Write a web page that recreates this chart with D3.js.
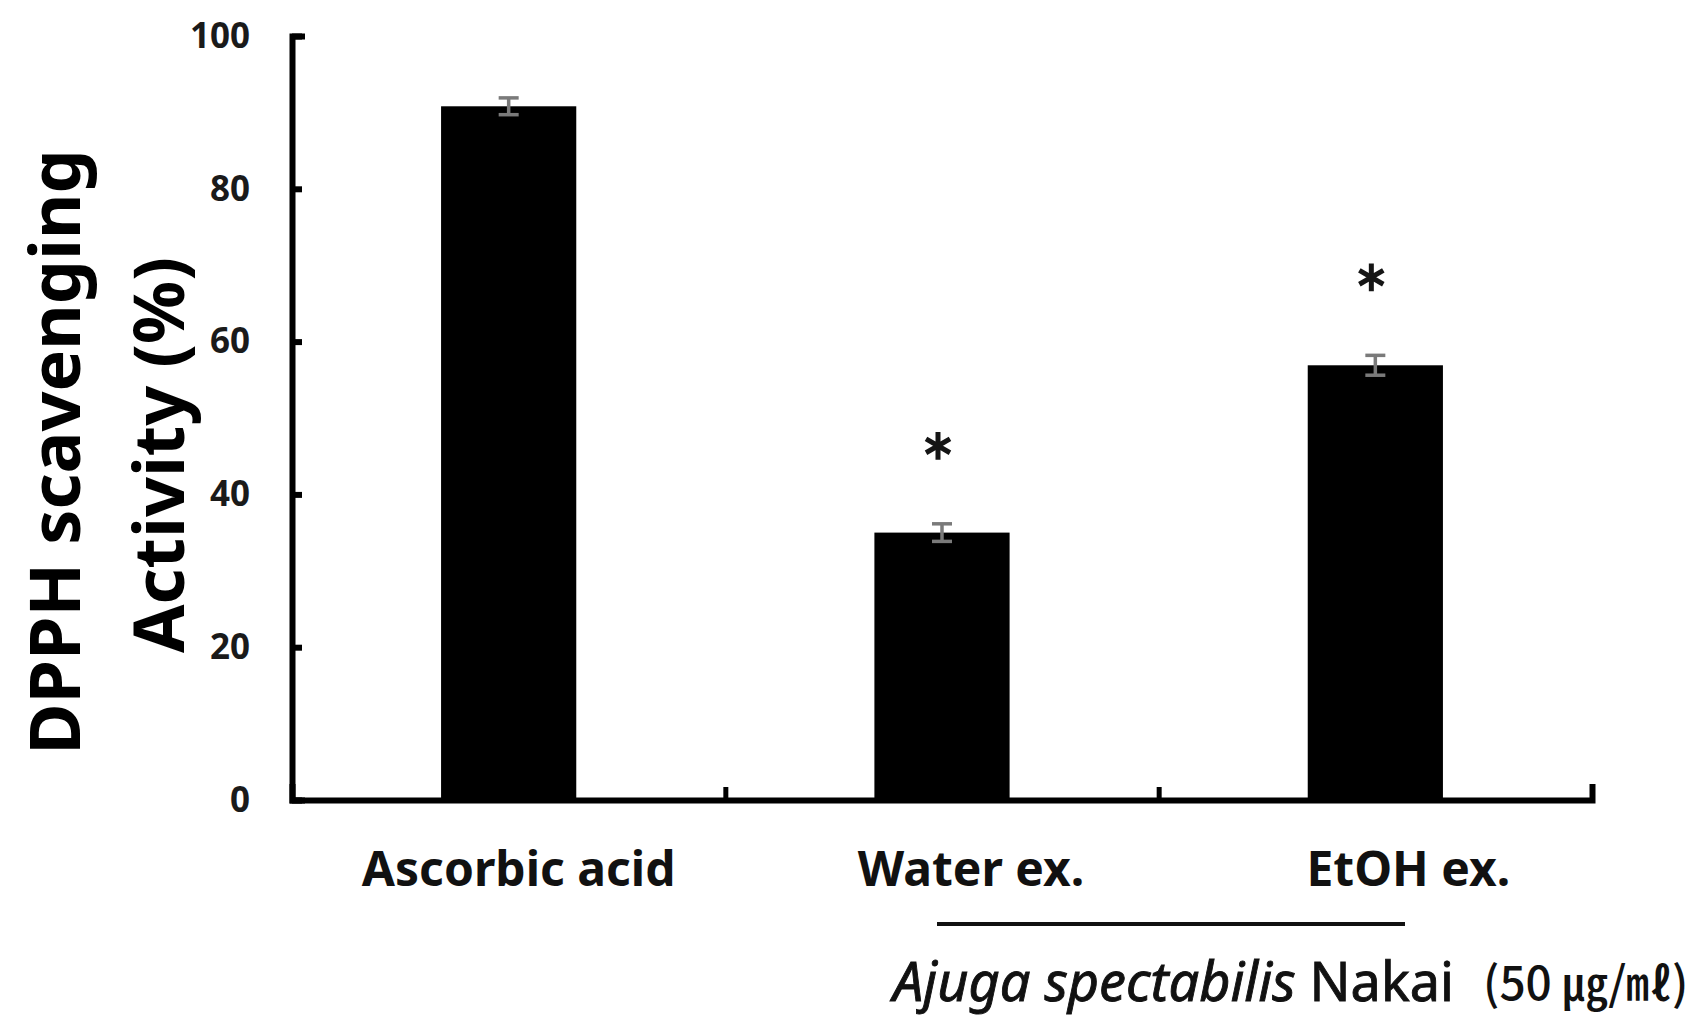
<!DOCTYPE html>
<html>
<head>
<meta charset="utf-8">
<script src="https://cdn.jsdelivr.net/npm/d3@7"></script>
<style>
  html, body { margin: 0; padding: 0; background: #fff; }
  svg { display: block; }
</style>
</head>
<body>
<svg id="chart" width="1708" height="1027"></svg>
<script>
// ---------------- data ----------------
const categories = ["Ascorbic acid", "Water ex.", "EtOH ex."];
const activity = [90.8, 35.0, 56.9];
const errors = [1.1, 1.15, 1.3];
const significant = [false, true, true];
const yTicks = [0, 20, 40, 60, 80, 100];
const yTitleLines = ["DPPH scavenging", "Activity (%)"];
const speciesItalic = "Ajuga spectabilis";
const speciesPlain = " Nakai";
const doseLabel = "(50 \u338D/\u3396)";

// ---------------- layout ----------------
const X0 = 292, X1 = 1592, Y0 = 800, Y1 = 36;
const barFrac = 0.312;
const labelDx = [10, 29, 33];
const FONT = "'Noto Sans', 'DejaVu Sans', sans-serif";

const svg = d3.select("#chart");

const x = d3.scaleBand().domain(categories).range([X0, X1]).padding(0);
const xEdge = d3.scaleLinear().domain([0, categories.length]).range([X0, X1]);
const y = d3.scaleLinear().domain([0, 100]).range([Y0, Y1]);

const bw = x.bandwidth() * barFrac;
const cx = d => x(d) + x.bandwidth() / 2;

// bars
svg.append("g").selectAll("rect")
  .data(categories)
  .join("rect")
  .attr("x", d => cx(d) - bw / 2)
  .attr("width", bw)
  .attr("y", (d, i) => y(activity[i]))
  .attr("height", (d, i) => y(0) - y(activity[i]))
  .attr("fill", "#000");

// error bars
const eg = svg.append("g").attr("stroke", "#7a7a7a").attr("stroke-width", 3.5).attr("fill", "none");
categories.forEach((c, i) => {
  const xc = cx(c), capW = 10;
  const yt = y(activity[i] + errors[i]), yb = y(activity[i] - errors[i]);
  eg.append("line").attr("x1", xc).attr("x2", xc).attr("y1", yt).attr("y2", yb);
  eg.append("line").attr("x1", xc - capW).attr("x2", xc + capW).attr("y1", yt).attr("y2", yt);
  eg.append("line").attr("x1", xc - capW).attr("x2", xc + capW).attr("y1", yb).attr("y2", yb);
});

// significance asterisks
const astSym = d3.symbol().type(d3.symbolAsterisk || d3.symbolCross).size(540);
svg.append("g").selectAll("path")
  .data(categories.filter((c, i) => significant[i]))
  .join("path")
  .attr("d", astSym)
  .attr("transform", d => {
    const i = categories.indexOf(d);
    return `translate(${cx(d) - 4},${y(activity[i] + errors[i]) - 78})`;
  })
  .attr("fill", "none")
  .attr("stroke", "#151515")
  .attr("stroke-width", 5);

// y axis
const yAxis = svg.append("g")
  .attr("transform", `translate(${X0},0)`)
  .call(d3.axisLeft(y).tickValues(yTicks).tickSizeInner(-10).tickSizeOuter(-10).tickPadding(42));
yAxis.select(".domain").attr("stroke", "#000").attr("stroke-width", 6).attr("stroke-linecap", "square").attr("fill", "none");
yAxis.selectAll(".tick line").attr("stroke", "#000").attr("stroke-width", 6);
yAxis.selectAll(".tick text")
  .attr("font-family", FONT).attr("font-weight", "bold").attr("font-size", 35).attr("fill", "#1a1a1a");

// x axis (ticks at category boundaries)
const xAxis = svg.append("g")
  .attr("transform", `translate(0,${Y0})`)
  .call(d3.axisBottom(xEdge).tickValues(d3.range(1, categories.length)).tickSizeInner(-13).tickSizeOuter(-13).tickFormat(""));
xAxis.select(".domain").attr("stroke", "#000").attr("stroke-width", 6).attr("stroke-linecap", "square").attr("fill", "none");
xAxis.selectAll(".tick line").attr("stroke", "#000").attr("stroke-width", 5);

// category labels
svg.append("g").selectAll("text")
  .data(categories)
  .join("text")
  .attr("x", (d, i) => cx(d) + labelDx[i])
  .attr("y", 886)
  .attr("text-anchor", "middle")
  .attr("font-family", FONT).attr("font-weight", "bold").attr("font-size", 48)
  .attr("fill", "#111")
  .text(d => d);

// y title
const yTitlePos = [[80, 452], [184, 455]];
svg.append("g").selectAll("text")
  .data(yTitleLines)
  .join("text")
  .attr("transform", (d, i) => `translate(${yTitlePos[i][0]},${yTitlePos[i][1]}) rotate(-90)`)
  .attr("text-anchor", "middle")
  .attr("font-family", FONT).attr("font-weight", "bold").attr("font-size", 70)
  .attr("fill", "#000")
  .text(d => d);

// group underline
svg.append("line")
  .attr("x1", 937).attr("x2", 1405).attr("y1", 924).attr("y2", 924)
  .attr("stroke", "#111").attr("stroke-width", 4);

// species label
const sp = svg.append("text")
  .attr("x", 893).attr("y", 1001)
  .attr("font-family", FONT).attr("font-size", 54).attr("font-weight", "normal")
  .attr("fill", "#111").attr("stroke", "#111").attr("stroke-width", 0.9);
sp.append("tspan").attr("font-style", "italic").text(speciesItalic);
sp.append("tspan").text(speciesPlain);

svg.append("text")
  .attr("x", 1483).attr("y", 1000)
  .attr("font-family", "'Noto Sans CJK KR', 'Noto Sans', sans-serif")
  .attr("font-size", 46).attr("font-weight", 500).attr("fill", "#111")
  .text(doseLabel);
</script>
</body>
</html>
